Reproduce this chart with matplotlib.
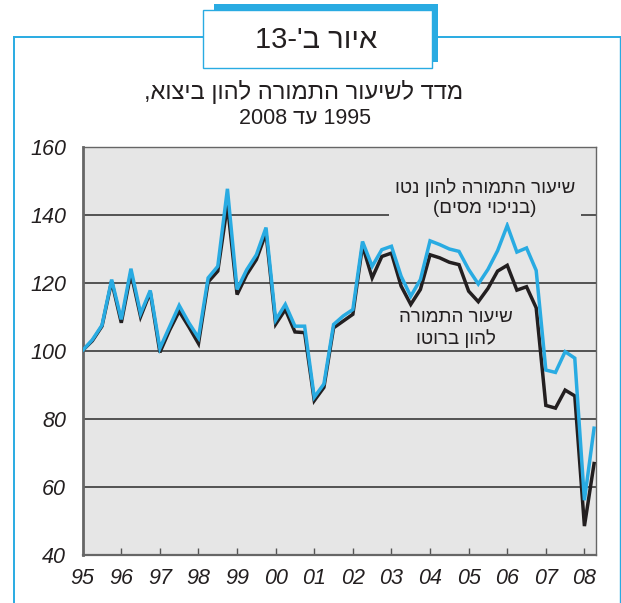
import re
import matplotlib
matplotlib.use("Agg")
import matplotlib.pyplot as plt
from matplotlib.patches import Rectangle
from matplotlib.lines import Line2D

# ---------------- data (quarterly, 1995Q1 .. 2008Q2) ----------------
net_tax = [100.2, 103.3, 107.6, 121.0, 109.3, 124.2, 111.0, 117.8,
           100.8, 107.1, 113.4, 108.3, 103.9, 121.5, 124.9, 147.7,
           118.1, 123.9, 128.3, 136.3, 109.1, 113.7, 107.3, 107.3,
           86.4, 90.3, 107.8, 110.3, 112.2, 132.2, 124.9, 129.8,
           130.8, 122.0, 116.1, 121.0, 132.4, 131.3, 130.0, 129.3,
           124.0, 119.7, 124.0, 129.5, 136.9, 129.1, 130.3, 123.7,
           94.4, 93.7, 99.8, 97.9, 56.1, 77.3]
gross = [100.2, 103.0, 107.3, 120.5, 108.3, 123.0, 110.1, 117.3,
         99.6, 106.1, 111.7, 107.1, 102.2, 120.3, 123.5, 143.0,
         116.6, 122.5, 126.9, 134.7, 107.9, 112.2, 105.6, 105.4,
         85.4, 89.3, 106.8, 108.8, 110.8, 131.0, 121.5, 127.8,
         128.8, 119.1, 113.7, 118.1, 128.3, 127.4, 126.1, 125.4,
         117.6, 114.5, 118.4, 123.5, 125.2, 117.9, 118.9, 112.7,
         84.0, 83.2, 88.5, 86.8, 48.5, 66.9]
start_year = 1995
years = list(range(1995, 2009))
year_labels = ["95", "96", "97", "98", "99", "00", "01", "02",
               "03", "04", "05", "06", "07", "08"]
y_ticks = [40, 60, 80, 100, 120, 140, 160]

figure_label = "איור ב'-13"
title_line1 = "מדד לשיעור התמורה להון ביצוא,"
title_line2 = "1995 עד 2008"
net_label = ["שיעור התמורה להון נטו", "(בניכוי מסים)"]
gross_label = ["שיעור התמורה", "להון ברוטו"]


def vis(s):
    """Simple visual ordering for right-to-left Hebrew text."""
    mirror = {"(": ")", ")": "("}
    toks = re.findall(r"\d+|\D", s)[::-1]
    return "".join(mirror.get(t, t) for t in toks)


HEB = ["Liberation Sans", "DejaVu Sans"]
NUM = ["Liberation Sans Narrow", "Liberation Sans", "DejaVu Sans"]
BLUE = "#29abe2"
BLACK = "#231f20"
TXT = "#231f20"
W, H = 621, 603

fig = plt.figure(figsize=(W / 100, H / 100), dpi=100)


def fx(x):
    return x / W


def fy(y):
    return 1 - y / H


# outer frame
fig.add_artist(Line2D([fx(14), fx(14)], [fy(37), fy(603)], color=BLUE, lw=1.4,
                      transform=fig.transFigure))
fig.add_artist(Line2D([fx(14), fx(621)], [fy(37), fy(37)], color=BLUE, lw=1.4,
                      transform=fig.transFigure))
fig.add_artist(Line2D([fx(620), fx(620)], [fy(37), fy(603)], color=BLUE, lw=1.0,
                      transform=fig.transFigure))

# label box with blue shadow
fig.add_artist(Rectangle((fx(214), fy(62)), fx(438) - fx(214), fy(4) - fy(62),
                         transform=fig.transFigure, facecolor=BLUE,
                         edgecolor="none", zorder=5))
fig.add_artist(Rectangle((fx(203), fy(68)), fx(432) - fx(203), fy(10) - fy(68),
                         transform=fig.transFigure, facecolor="white",
                         edgecolor=BLUE, lw=1.0, zorder=6))
fig.text(fx(316), fy(40), vis(figure_label), family=HEB, fontsize=21,
         ha="center", va="center", color=TXT, zorder=7)

fig.text(fx(304), fy(92), vis(title_line1), family=HEB, fontsize=17,
         ha="center", va="center", color=TXT)
fig.text(fx(305), fy(118), vis(title_line2), family=HEB, fontsize=15.5,
         ha="center", va="center", color=TXT)

# axes
ax = fig.add_axes([fx(82.7), fy(555), fx(596) - fx(82.7), fy(147) - fy(555)])
ax.set_facecolor("#e6e6e6")
x = [start_year + i / 4 for i in range(len(net_tax))]
ax.set_xlim(1995, 2008.3)
ax.set_ylim(40, 160)

for v in y_ticks[1:-1]:
    ax.axhline(v, color="#3a3a3a", lw=1.2, zorder=1)

ax.plot(x, gross, color=BLACK, lw=2.5, zorder=3, solid_joinstyle="miter")
ax.plot(x, net_tax, color=BLUE, lw=2.5, zorder=4, solid_joinstyle="miter")

for s in ax.spines.values():
    s.set_color("#666666")
    s.set_linewidth(1.0)
ax.spines["left"].set_linewidth(2.0)
ax.spines["bottom"].set_linewidth(1.6)

ax.set_yticks(y_ticks)
ax.set_yticklabels([str(v) for v in y_ticks], family=NUM, style="italic",
                   fontsize=15.5, color=TXT)
ax.tick_params(axis="y", length=0, pad=12)

ax.set_xticks(years)
ax.set_xticklabels(year_labels, family=NUM, style="italic", fontsize=15.5,
                   color=TXT)
ax.tick_params(axis="x", direction="in", length=5, width=1.0, color="#555555",
               pad=9)
for t in ax.xaxis.get_major_ticks()[:1]:
    t.tick1line.set_visible(False)

# series labels
ax.text(2005.42, 145.2, vis(net_label[0]) + "\n" + vis(net_label[1]),
        family=HEB, fontsize=13.5, ha="center", va="center",
        color=TXT, linespacing=1.2, zorder=5,
        bbox=dict(facecolor="#e6e6e6", edgecolor="none", pad=4))
ax.text(2004.67, 106.6, vis(gross_label[0]) + "\n" + vis(gross_label[1]),
        family=HEB, fontsize=13.5, ha="center", va="center",
        color=TXT, linespacing=1.2, zorder=5)

fig.savefig("out.png", dpi=100)
